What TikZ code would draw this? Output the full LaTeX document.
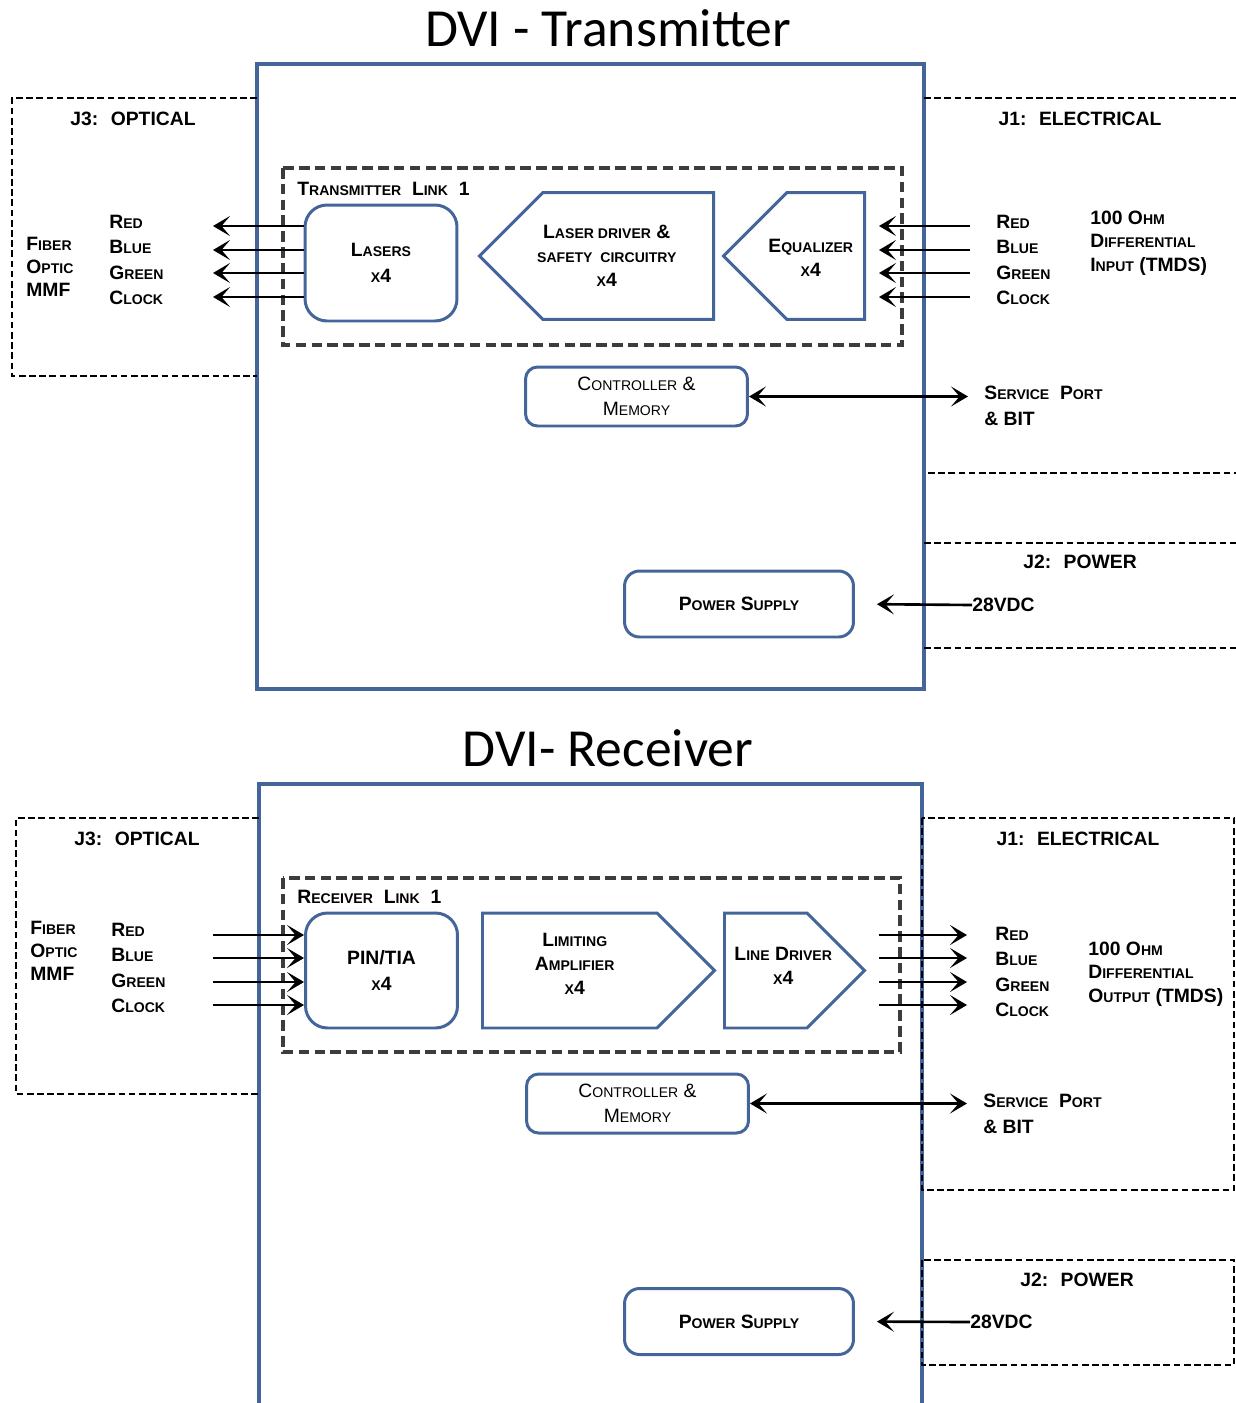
\documentclass[tikz,border=0pt]{standalone}
\usepackage{fontspec}
\setmainfont{Liberation Sans}
\newfontfamily\headfont{Carlito}
\usetikzlibrary{arrows.meta,shapes.symbols,positioning}
\definecolor{unitblue}{HTML}{43659A}
\definecolor{linkgray}{HTML}{3C3C3C}
\newcommand\lo[1]{{\fontsize{8}{8}\selectfont #1}}

\begin{document}
\begin{tikzpicture}[
  x=0.02cm, y=-0.02cm,
  >={Stealth[length=0.34cm,width=0.4cm,inset=0.17cm]},
  every node/.style={font=\fontsize{11}{14.5}\selectfont\bfseries, inner sep=0pt},
  ttl/.style={font=\headfont\fontsize{30.5}{30.5}\selectfont},
  unit/.style={draw=unitblue, line width=2pt},
  port/.style={draw=black, line width=1.4pt, dash pattern=on 3.8pt off 2pt},
  link/.style={draw=linkgray, line width=1.8pt, dash pattern=on 6pt off 3pt},
  lines/.style={align=left},
  blk/.style={draw=unitblue, line width=1.7pt, rounded corners=0.44cm, align=center,
              minimum width=3.04cm, minimum height=2.32cm},
  ctlbox/.style={blk, rounded corners=0.24cm, font=\fontsize{11}{14}\selectfont,
                 minimum width=4.44cm, minimum height=1.18cm},
  psbox/.style={blk, rounded corners=0.3cm, minimum width=4.58cm, minimum height=1.32cm},
  stage/.style={draw=unitblue, line width=1.7pt, shape=signal, signal pointer angle=90},
  stagetext/.style={align=center, font=\fontsize{11}{13.6}\selectfont\bfseries},
  sig/.style={->, line width=1.5pt}
]
\useasboundingbox (0,0) rectangle (1236,1403);

% ---------------- transmitter ----------------
\node[ttl] (txtitle) at (608,28) {DVI - Transmitter};
\draw[unit] (257,64) rectangle (924,689);
\draw[port] (257,98) -| (12,376) -- (257,376);
\draw[port] (924,98) -- (1236,98) (928,473) -- (1236,473);
\draw[port] (924,543) -- (1236,543) (924,648) -- (1236,648);
\draw[link] (283,168) rectangle (902,345);

\node (txj3) at (133,119) {J3:~ OPTICAL};
\node (txj1) at (1080,119) {J1:~ ELECTRICAL};
\node (txj2) at (1080,562) {J2:~ POWER};

\node[lines, anchor=west, font=\fontsize{11}{13}\selectfont\bfseries] (txfib) at (26,267) {F\lo{IBER}\\O\lo{PTIC}\\MMF};
\node[lines, anchor=west] (txcol) at (109,260) {R\lo{ED}\\B\lo{LUE}\\G\lo{REEN}\\C\lo{LOCK}};
\node[lines, anchor=west] (txlink) at (297,189) {T\lo{RANSMITTER}~ L\lo{INK}~ 1};

\node[blk] (lasers) at (381,263) {L\lo{ASERS}\\\lo{X}4};
\node[stage, signal to=west, minimum width=4.68cm, minimum height=2.54cm, anchor=east,
      label={[stagetext, xshift=-0.43cm]center:{L\lo{ASER DRIVER} \&\\\lo{SAFETY~ CIRCUITRY}\\\lo{X}4}}]
  (ldrv) at (715,256) {};
\node[stage, signal to=west, minimum width=2.82cm, minimum height=2.54cm, anchor=east,
      label={[stagetext, xshift=-0.3cm, yshift=-0.04cm]center:{E\lo{QUALIZER}\\\lo{X}4}}]
  (eql) at (866,256) {};

\node[lines, anchor=west] (txecol) at (996,260) {R\lo{ED}\\B\lo{LUE}\\G\lo{REEN}\\C\lo{LOCK}};
\node[lines, anchor=west, font=\fontsize{11}{13.3}\selectfont\bfseries] (txtmds) at (1090,243)
  {100 O\lo{HM}\\D\lo{IFFERENTIAL}\\I\lo{NPUT} (TMDS)};

\node[ctlbox] (txctl) at (636.5,396.5) {C\lo{ONTROLLER} \&\\M\lo{EMORY}};
\node[lines, anchor=west] (txsvc) at (984,406) {S\lo{ERVICE}~ P\lo{ORT}\\\& BIT};
\node[psbox] (txps) at (739,604) {P\lo{OWER} S\lo{UPPLY}};
\node[anchor=west] (txvdc) at (972,605) {28VDC};

\foreach \y [count=\i] in {226,250,273,297}{
  \coordinate (txout\i) at (213,\y);
  \coordinate (txin\i) at (970,\y);
  \draw[sig] (lasers.west |- txout\i) -- (txout\i);
  \draw[sig, shorten >=0.26cm] (txin\i) -- (eql.east |- txin\i);
}
\draw[sig, <->, shorten >=0.32cm] (txctl.east) -- (txctl.east -| txsvc.west);
\draw[sig, shorten >=0.44cm] (txvdc.west) -- (txps.east);

% ---------------- receiver ----------------
\node[ttl] (rxtitle) at (608,748) {DVI- Receiver};
\draw[unit] (259,1420) |- (922,784) -- (922,1420);
\draw[port] (259,818) -| (16,1094) -- (259,1094);
\draw[port] (922,818) rectangle (1234,1190);
\draw[port] (922,1260) rectangle (1234,1365);
\draw[link] (283,878) rectangle (900,1052);

\node (rxj3) at (137,839) {J3:~ OPTICAL};
\node (rxj1) at (1078,839) {J1:~ ELECTRICAL};
\node (rxj2) at (1077,1280) {J2:~ POWER};

\node[lines, anchor=west, font=\fontsize{11}{13}\selectfont\bfseries] (rxfib) at (30,951) {F\lo{IBER}\\O\lo{PTIC}\\MMF};
\node[lines, anchor=west] (rxcol) at (111,968) {R\lo{ED}\\B\lo{LUE}\\G\lo{REEN}\\C\lo{LOCK}};
\node[lines, anchor=west] (rxlink) at (297,897) {R\lo{ECEIVER}~ L\lo{INK}~ 1};

\node[blk, minimum height=2.3cm] (pintia) at (381.5,970.5) {PIN/TIA\\\lo{X}4};
\node[stage, signal to=east, minimum width=4.64cm, minimum height=2.3cm, anchor=west,
      label={[stagetext, xshift=0.1cm, yshift=0.14cm]center:{L\lo{IMITING}\\A\lo{MPLIFIER}\\\lo{X}4}}]
  (lamp) at (481,970.5) {};
\node[stage, signal to=east, minimum width=2.8cm, minimum height=2.3cm, anchor=west,
      label={[stagetext, xshift=0.35cm, yshift=0.09cm]center:{L\lo{INE} D\lo{RIVER}\\\lo{X}4}}]
  (ldrvr) at (723,970.5) {};

\node[lines, anchor=west] (rxecol) at (995,972) {R\lo{ED}\\B\lo{LUE}\\G\lo{REEN}\\C\lo{LOCK}};
\node[lines, anchor=west, font=\fontsize{11}{13.3}\selectfont\bfseries] (rxtmds) at (1088,974)
  {100 O\lo{HM}\\D\lo{IFFERENTIAL}\\O\lo{UTPUT} (TMDS)};

\node[ctlbox] (rxctl) at (637.5,1103.5) {C\lo{ONTROLLER} \&\\M\lo{EMORY}};
\node[lines, anchor=west] (rxsvc) at (983,1114) {S\lo{ERVICE}~ P\lo{ORT}\\\& BIT};
\node[psbox] (rxps) at (739,1321.5) {P\lo{OWER} S\lo{UPPLY}};
\node[anchor=west] (rxvdc) at (970,1322) {28VDC};

\foreach \y [count=\i] in {935,958,982,1005}{
  \coordinate (rxin\i) at (213,\y);
  \coordinate (rxout\i) at (967,\y);
  \draw[sig] (rxin\i) -- (pintia.west |- rxin\i);
  \draw[sig] (ldrvr.east |- rxin\i) ++(12,0) -- (rxout\i);
}
\draw[sig, <->, shorten >=0.32cm] (rxctl.east) -- (rxctl.east -| rxsvc.west);
\draw[sig, shorten >=0.44cm] (rxvdc.west) -- (rxps.east);
\end{tikzpicture}
\end{document}
